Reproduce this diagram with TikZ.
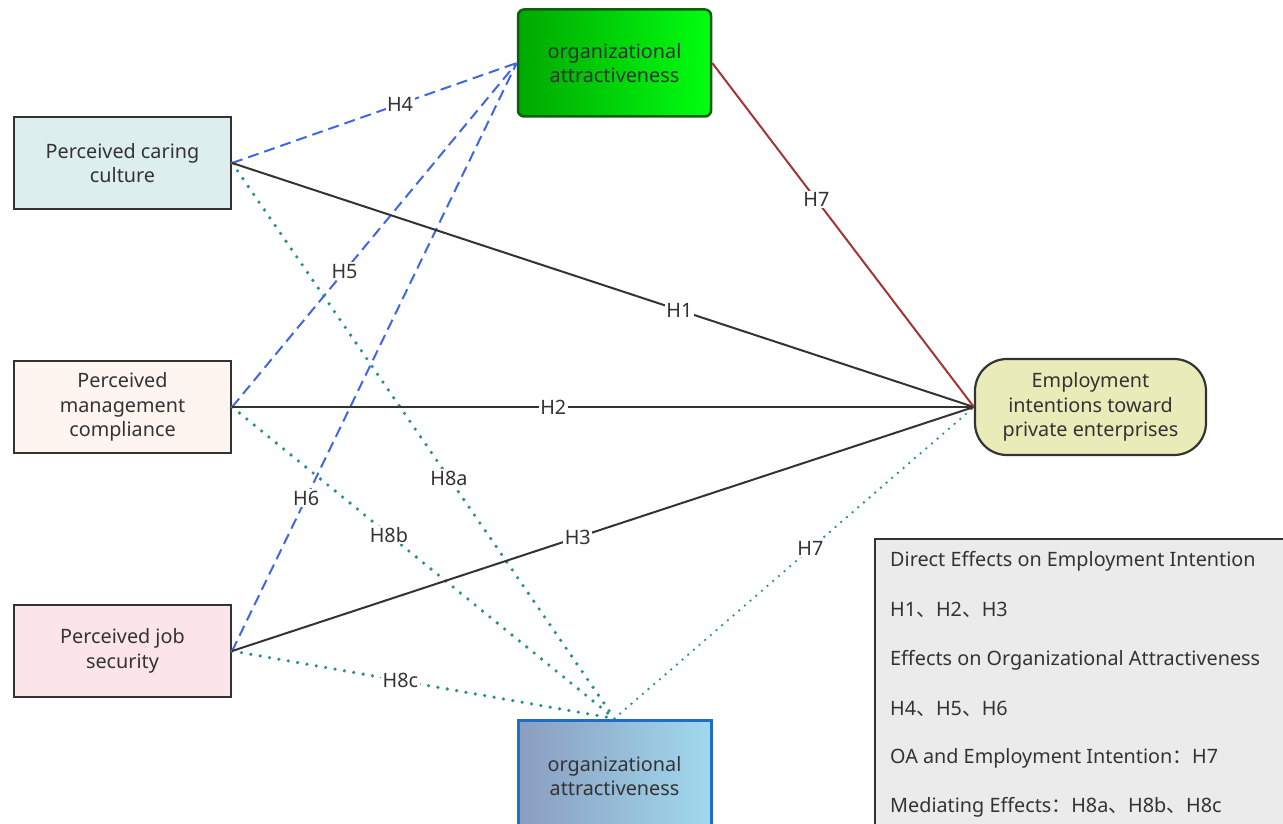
\documentclass[tikz,border=0pt]{standalone}
\usepackage{fontspec}
\setmainfont{Noto Sans}
\newfontfamily\cjk{Noto Sans CJK SC}
\usetikzlibrary{calc}
\definecolor{txt}{HTML}{333333}
\definecolor{careFill}{HTML}{DCEEEE}
\definecolor{mgmtFill}{HTML}{FFF5F0}
\definecolor{jobFill}{HTML}{FCE5E8}
\definecolor{empFill}{HTML}{E9ECB8}
\definecolor{greenL}{HTML}{00A800}
\definecolor{greenR}{HTML}{00FF10}
\definecolor{greenB}{HTML}{0E5F0E}
\definecolor{blueL}{HTML}{8A9DC0}
\definecolor{blueR}{HTML}{A0D9EE}
\definecolor{blueB}{HTML}{1C6EC8}
\definecolor{legFill}{HTML}{EBEBEB}
\definecolor{dashBlue}{HTML}{4066E6}
\definecolor{teal}{HTML}{2A8E8E}
\definecolor{redL}{HTML}{A53434}
\begin{document}
\begin{tikzpicture}[x=1pt,y=-1pt,
  font=\fontsize{19.8}{24.5}\selectfont, text=txt,
  srcbox/.style={draw=txt, line width=2.2pt, minimum width=217pt, minimum height=92pt, align=center, inner sep=0pt},
  oabox/.style={line width=2.5pt, minimum width=193pt, minimum height=107pt, align=center, inner sep=0pt},
  lbl/.style={fill=white, inner sep=1.5pt, text=txt},
  dashedge/.style={draw=dashBlue, line width=2pt, dash pattern=on 11pt off 6pt},
  solidedge/.style={draw=txt, line width=2pt},
  dotedge/.style={draw=teal, line width=3.6pt, line cap=round, dash pattern=on 0pt off 9.5pt},
  thindot/.style={draw=teal, line width=2.6pt, line cap=round, dash pattern=on 0pt off 7.5pt},
  legtxt/.style={anchor=west, inner sep=0pt, text=txt}
]
\useasboundingbox (0,0) rectangle (1283,824);

% nodes
\node[srcbox, fill=careFill] (care) at (122.5,163) {Perceived caring\\culture};
\node[srcbox, fill=mgmtFill] (mgmt) at (122.5,407) {Perceived\\management\\compliance};
\node[srcbox, fill=jobFill] (job) at (122.5,651) {Perceived job\\security};
\node[oabox, draw=greenB, rounded corners=6pt, left color=greenL, right color=greenR] (toa) at (614.5,63) {organizational\\attractiveness};
\node[oabox, draw=blueB, left color=blueL, right color=blueR, minimum height=112pt, line width=3pt] (boa) at (614.5,776) {organizational\\attractiveness};
\node[draw=txt, line width=2.2pt, fill=empFill, rounded corners=32pt, minimum width=231pt, minimum height=96pt, align=center, inner sep=0pt] (emp) at (1090.5,407) {Employment\\intentions toward\\private enterprises};

% legend
\node[draw=txt, line width=1.5pt, fill=legFill, anchor=north west, minimum width=420pt, minimum height=300pt, inner sep=0pt] (leg) at (874,538) {};
\node[legtxt] (l1) at (890,561) {Direct Effects on Employment Intention};
\node[legtxt] (l2) at (890,610) {H1{\cjk 、}H2{\cjk 、}H3};
\node[legtxt] (l3) at (890,660) {Effects on Organizational Attractiveness};
\node[legtxt] (l4) at (890,709) {H4{\cjk 、}H5{\cjk 、}H6};
\node[legtxt] (l5) at (890,758) {OA and Employment Intention{\cjk ：}H7};
\node[legtxt] (l6) at (890,807) {Mediating Effects{\cjk ：}H8a{\cjk 、}H8b{\cjk 、}H8c};

% connectors
\draw[dashedge] (care.east) -- node[lbl,pos=0.59]{H4} (toa.west);
\draw[dashedge] (mgmt.east) -- node[lbl,pos=0.395]{H5} (toa.west);
\draw[dashedge] (job.east) -- node[lbl,pos=0.26]{H6} (toa.west);

\draw[dotedge] (care.east) -- node[lbl,pos=0.567]{H8a} (boa.north);
\draw[dotedge] (mgmt.east) -- node[lbl,pos=0.41]{H8b} (boa.north);
\draw[dotedge] (job.east) -- node[lbl,pos=0.44]{H8c} (boa.north);
\draw[thindot] (boa.north) -- node[lbl,pos=0.545]{H7} (emp.west);

\draw[solidedge] (care.east) -- node[lbl,pos=0.603]{H1} (emp.west);
\draw[solidedge] (mgmt.east) -- node[lbl,pos=0.433]{H2} (emp.west);
\draw[solidedge] (job.east) -- node[lbl,pos=0.466]{H3} (emp.west);
\draw[draw=redL, line width=2pt] (toa.east) -- node[lbl,pos=0.398]{H7} (emp.west);
\end{tikzpicture}
\end{document}
